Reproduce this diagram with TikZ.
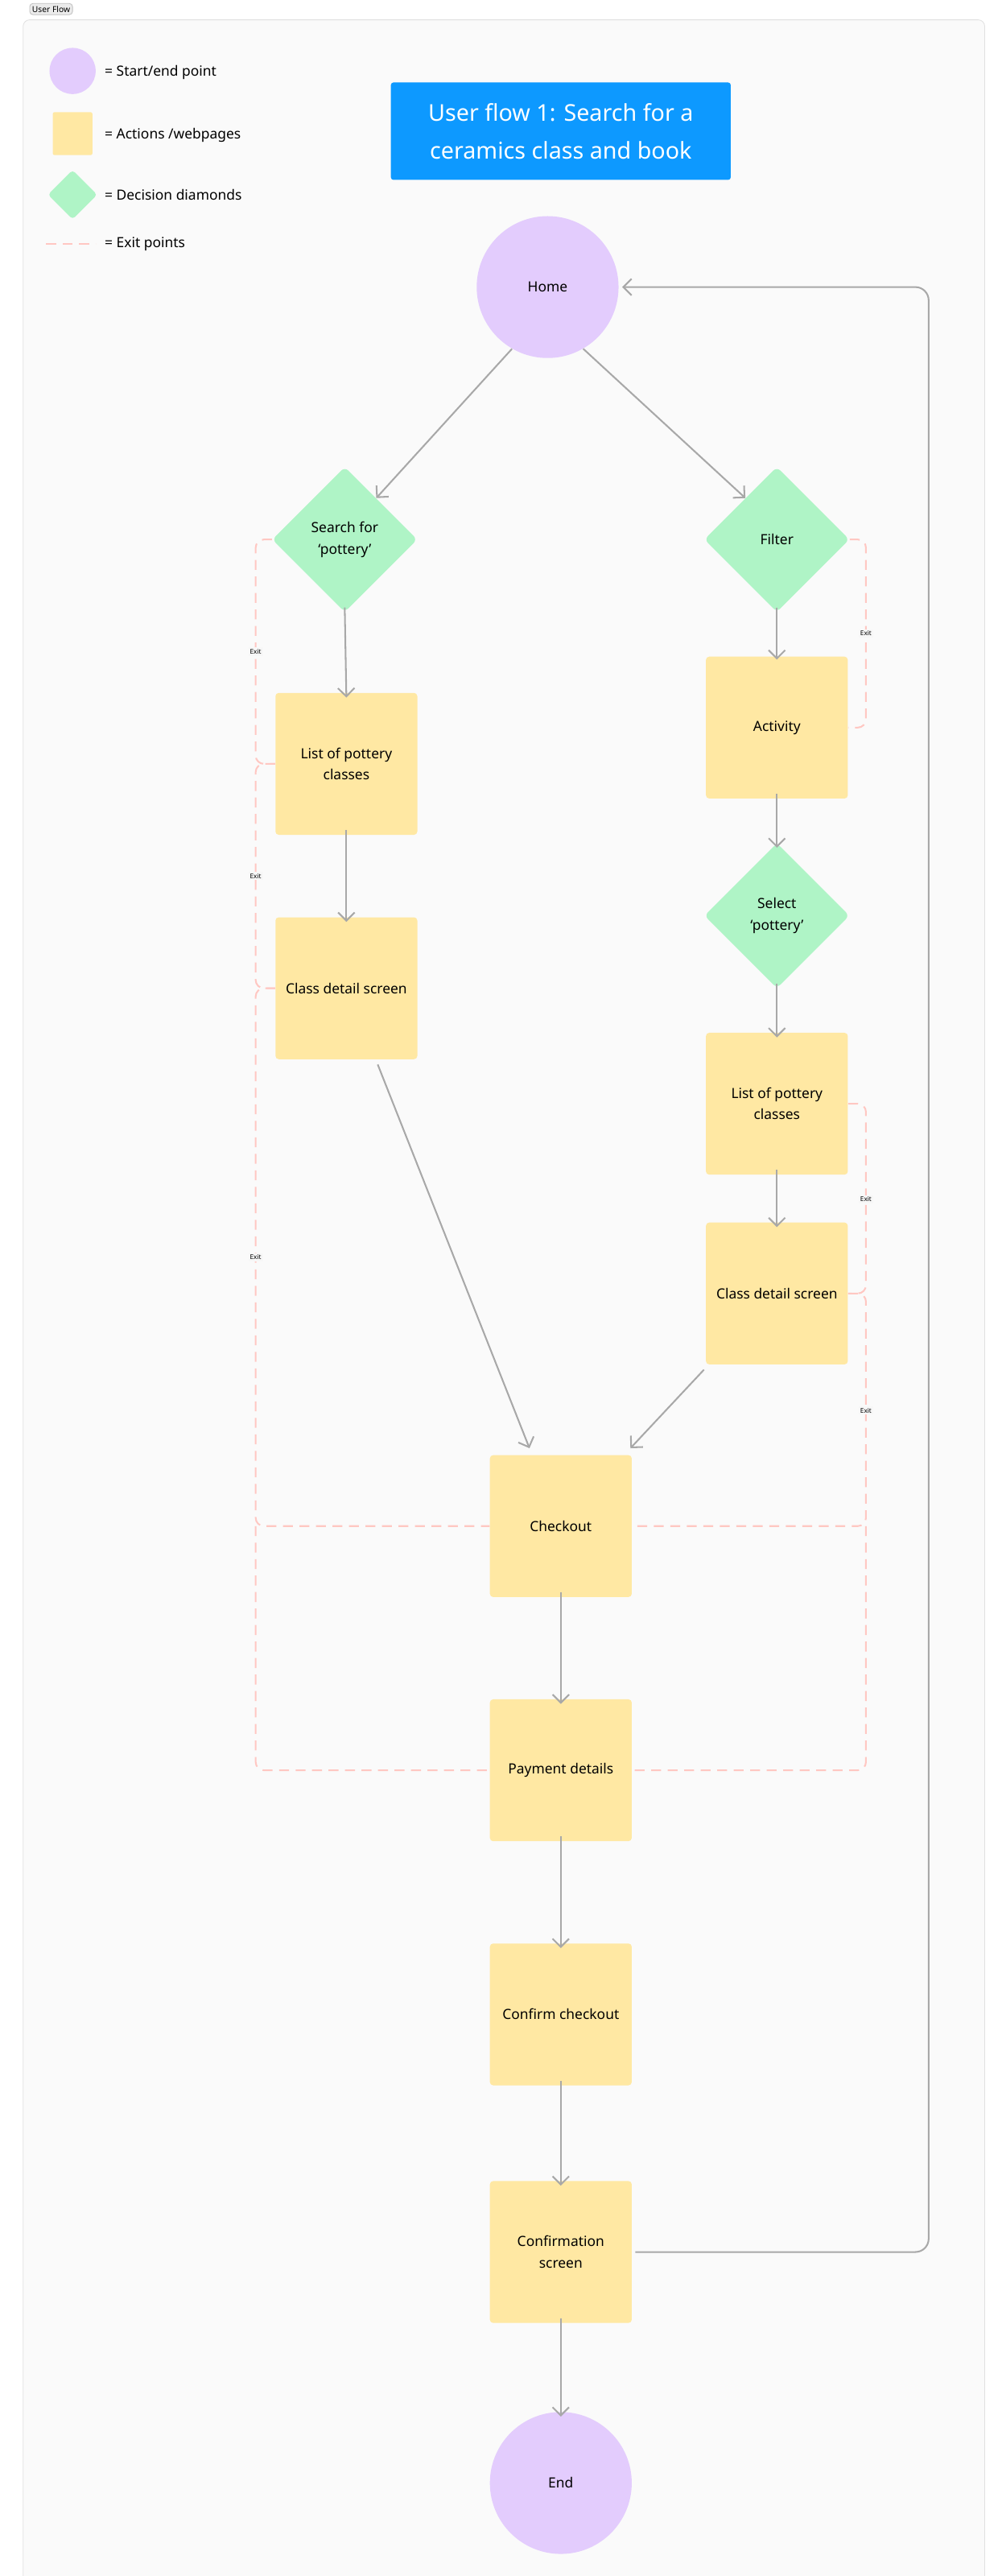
\documentclass[tikz,border=0pt]{standalone}
\usepackage{fontspec}
\setmainfont{Noto Sans}
\usetikzlibrary{arrows.meta,shapes.geometric}

\definecolor{flowpurple}{HTML}{E3CCFD}
\definecolor{flowyellow}{HTML}{FFE8A3}
\definecolor{flowgreen}{HTML}{AFF4C6}
\definecolor{flowblue}{HTML}{0D99FF}
\definecolor{flowgray}{HTML}{A8A8A8}
\definecolor{flowexit}{HTML}{FFC7C2}

\tikzset{
  startend/.style={circle,fill=flowpurple,minimum size=86pt,inner sep=0pt,font=\fontsize{8.5}{11}\selectfont},
  page/.style={rectangle,fill=flowyellow,rounded corners=2pt,minimum width=86pt,minimum height=86pt,align=center,font=\fontsize{8.5}{13}\selectfont},
  decision/.style={diamond,fill=flowgreen,rounded corners=3pt,minimum width=88pt,minimum height=88pt,inner sep=0pt,align=center,font=\fontsize{8.5}{13}\selectfont},
  flow/.style={draw=flowgray,line width=1pt,-{Straight Barb[length=5pt,width=10pt]}},
  exit/.style={draw=flowexit,line width=1pt,dash pattern=on 6pt off 4pt,rounded corners=5pt},
  exitlabel/.style={fill=white!97!black,inner sep=1pt,font=\fontsize{4}{5}\selectfont},
  legend/.style={anchor=west,font=\fontsize{8.5}{10}\selectfont}
}

\begin{document}
\begin{tikzpicture}[x=1pt,y=1pt,yscale=-1]
\useasboundingbox (0,0) rectangle (607,1561.4);

% frame
\node[draw=black!25,fill=black!8,rounded corners=2pt,inner sep=1.5pt,font=\fontsize{5}{6}\selectfont] (tab) at (31,5.5) {User Flow};
\draw[draw=black!12,fill=white!98!black,rounded corners=4pt] (14,12) rectangle (597,1575);

% legend
\node[circle,fill=flowpurple,minimum size=28pt,inner sep=0pt] (legcircle) at (44,43) {};
\node[legend] (legcircletext) at (60,44) {= Start/end point};
\node[rectangle,fill=flowyellow,rounded corners=1pt,minimum width=24pt,minimum height=26pt] (legbox) at (44,81) {};
\node[legend] (legboxtext) at (60,82) {= Actions /webpages};
\node[diamond,fill=flowgreen,rounded corners=2pt,minimum width=30pt,minimum height=30pt,inner sep=0pt] (legdiamond) at (44,118) {};
\node[legend] (legdiamondtext) at (60,118) {= Decision diamonds};
\coordinate (legexita) at (28,148);
\coordinate (legexitb) at (58,148);
\draw[exit] (legexita) -- (legexitb);
\node[legend] (legexittext) at (60,148) {= Exit points};

% title
\node[fill=flowblue,rounded corners=1.5pt,minimum width=206pt,minimum height=59pt,align=center,text=white,font=\fontsize{14}{23}\selectfont] (title) at (340,79.5) {User flow 1: Search for a\\ceramics class and book};

% nodes
\node[startend] (home) at (332,174) {Home};
\node[decision] (search) at (209,327) {Search for\\‘pottery’};
\node[decision] (filter) at (471,327) {Filter};
\node[page] (listl) at (210,463) {List of pottery\\classes};
\node[page] (detaill) at (210,599) {Class detail screen};
\node[page] (activity) at (471,441) {Activity};
\node[decision] (select) at (471,555) {Select\\‘pottery’};
\node[page] (listr) at (471,669) {List of pottery\\classes};
\node[page] (detailr) at (471,784) {Class detail screen};
\node[page] (checkout) at (340,925) {Checkout};
\node[page] (payment) at (340,1073) {Payment details};
\node[page] (confirm) at (340,1221) {Confirm checkout};
\node[page] (confirmation) at (340,1365) {Confirmation\\screen};
\node[startend] (end) at (340,1505) {End};

% exit points
\draw[exit] (search.west) -- (155,327) -- (155,463) -- (listl.west);
\draw[exit] (listl.west) -- (155,463) -- (155,599) -- (detaill.west);
\draw[exit] (detaill.west) -- (155,599) -- (155,925) -- (checkout.west);
\draw[exit] (155,925) -- (155,1073) -- (payment.west);
\draw[exit] (filter.east) -- (525,327) -- (525,441) -- (activity.east);
\draw[exit] (listr.east) -- (525,669) -- (525,784) -- (detailr.east);
\draw[exit] (detailr.east) -- (525,784) -- (525,925) -- (checkout.east);
\draw[exit] (525,925) -- (525,1073) -- (payment.east);
\node[exitlabel] (exit1) at (155,395) {Exit};
\node[exitlabel] (exit2) at (155,531) {Exit};
\node[exitlabel] (exit3) at (155,762) {Exit};
\node[exitlabel] (exit4) at (525,384) {Exit};
\node[exitlabel] (exit5) at (525,727) {Exit};
\node[exitlabel] (exit6) at (525,855) {Exit};

% connectors
\draw[flow] (home.240) -- ([shift={(-3,-3)}]search.north east);
\draw[flow] (home.300) -- ([shift={(3,-3)}]filter.north west);
\draw[flow] ([yshift=-3pt]search.south) -- ([yshift=3pt]listl.north);
\draw[flow] ([yshift=-3pt]listl.south) -- ([yshift=3pt]detaill.north);
\draw[flow] ([yshift=-3pt]filter.south) -- ([yshift=2pt]activity.north);
\draw[flow] ([yshift=-3pt]activity.south) -- ([yshift=3pt]select.north);
\draw[flow] ([yshift=-3pt]select.south) -- ([yshift=3pt]listr.north);
\draw[flow] ([yshift=-3pt]listr.south) -- ([yshift=3pt]detailr.north);
\draw[flow] ([shift={(19,3)}]detaill.south) -- ([shift={(-19,-4)}]checkout.north);
\draw[flow] ([shift={(-1,3)}]detailr.south west) -- ([shift={(-1,-4)}]checkout.north east);
\draw[flow] ([yshift=-3pt]checkout.south) -- ([yshift=3pt]payment.north);
\draw[flow] ([yshift=-3pt]payment.south) -- ([yshift=3pt]confirm.north);
\draw[flow] ([yshift=-3pt]confirm.south) -- ([yshift=3pt]confirmation.north);
\draw[flow] ([yshift=-3pt]confirmation.south) -- ([yshift=3pt]end.north);
\draw[flow,rounded corners=8pt] ([xshift=2pt]confirmation.east) -- (563,1365) -- (563,174) -- ([xshift=2pt]home.east);

\end{tikzpicture}
\end{document}
